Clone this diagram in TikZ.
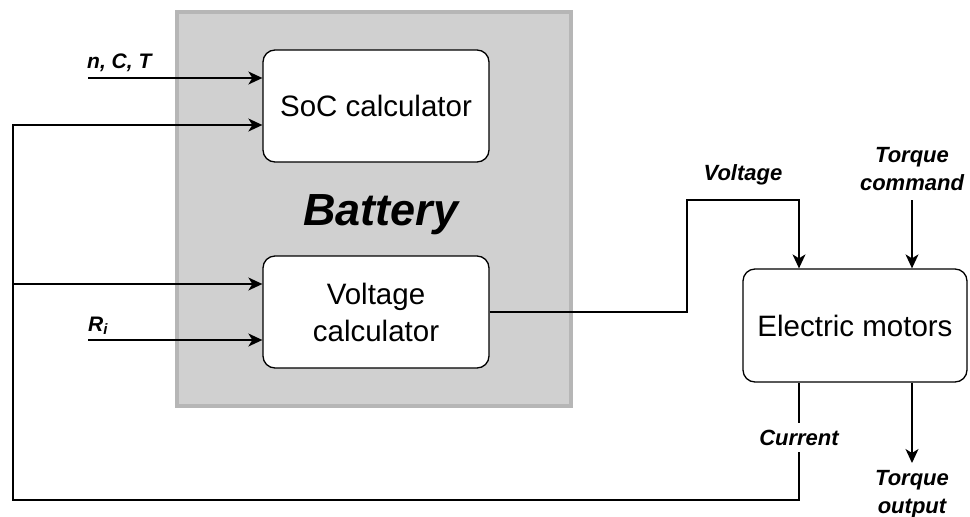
\documentclass[tikz,border=0pt]{standalone}
\usepackage{fontspec}
\setmainfont{Liberation Sans}
\usetikzlibrary{arrows.meta,calc}
\definecolor{batfill}{RGB}{208,208,208}
\definecolor{batdraw}{RGB}{182,182,182}
\begin{document}
\begin{tikzpicture}[x=1pt,y=-1pt,
  block/.style={draw=black,fill=white,rounded corners=12pt,line width=1.3pt,
    minimum width=226pt,minimum height=112pt,inner sep=0pt,align=center,
    font=\fontsize{29.5}{37}\selectfont},
  lbl/.style={font=\fontsize{22}{28}\selectfont\bfseries\itshape,inner sep=0pt,align=center},
  conn/.style={line width=1.4pt,draw=black},
  arr/.style={conn,-{Stealth[length=14pt,width=13pt,inset=4pt]}}]
\useasboundingbox (0,0) rectangle (970,517);
% battery container
\node[draw=batdraw,fill=batfill,line width=4pt,minimum width=394pt,minimum height=394pt,inner sep=0pt] (bat) at (374,209) {};
\node[font=\fontsize{45}{50}\selectfont\bfseries\itshape,anchor=base,inner sep=0pt] (batlbl) at (381,225) {Battery};
% blocks
\node[block] (soc) at (376,106) {SoC calculator};
\node[block] (volt) at (376,312) {Voltage\\calculator};
\node[block,minimum width=224pt,minimum height=113pt] (mot) at (855,325.5) {Electric motors};
% coordinates
\coordinate (nct) at (88,78);
\coordinate (ri) at (88,340);
\coordinate (lt) at (13,125);
\coordinate (lm) at (13,284);
\coordinate (lb) at (13,500);
\coordinate (cb) at (799,500);
\coordinate (vx) at (687,312);
\coordinate (vy) at (687,200);
\coordinate (vt) at (799,200);
\coordinate (tc) at (912,200);
\coordinate (to) at (912,463);
% labels
\node[lbl,anchor=base west,font=\fontsize{21}{26}\selectfont\bfseries\itshape] (nctl) at (87,68) {n, C, T};
\node[lbl,anchor=base west,font=\fontsize{21}{26}\selectfont\bfseries\itshape] (ril) at (88,331) {R\textsubscript{\fontsize{15}{15}\selectfont i}};
\node[lbl,anchor=base] (voltl) at (743,180) {Voltage};
\node[lbl,anchor=base] (tcl) at (912,190) {Torque\\command};
\node[lbl,anchor=base] (tol) at (912,513) {Torque\\output};
% connectors
\draw[arr] (nct) -- (nct -| soc.west);
\draw[arr] (ri) -- (ri -| volt.west);
\draw[arr] (lm) -- (lm -| volt.west);
\draw[arr] (cb |- mot.south) -- (cb) -- (lb) -- (lt) -- (lt -| soc.west);
\draw[conn] (lm) -- (lb);
\node[lbl,fill=white,minimum height=29pt,anchor=base] (curl) at (799,445) {Current};
\draw[arr] (volt.east |- vx) -- (vx) -- (vy) -- (vt) -- (vt |- mot.north);
\draw[arr] (tc) -- (tc |- mot.north);
\draw[arr] (to |- mot.south) -- (to);
\end{tikzpicture}
\end{document}
